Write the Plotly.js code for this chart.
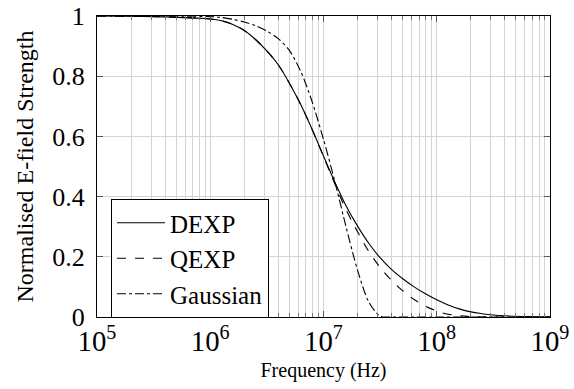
<!DOCTYPE html>
<html>
<head>
<meta charset="utf-8">
<script src="https://cdn.plot.ly/plotly-3.0.1.min.js"></script>
<style>html,body{margin:0;padding:0;background:#fff;}#chart{width:574px;height:389px;}</style>
</head>
<body>
<div id="chart"></div>
<script>
// Frequency (Hz) and normalised E-field strength
const dexpFreq = [1e5, 3.16e5, 1e6, 1.26e6, 1.58e6, 2.0e6, 2.51e6, 3.16e6, 3.98e6, 5.01e6, 6.31e6, 7.94e6, 1e7, 1.26e7, 1.58e7, 2.0e7, 2.51e7, 3.16e7, 3.98e7, 5.01e7, 6.31e7, 7.94e7, 1e8, 1.26e8, 1.58e8, 2.0e8, 2.51e8, 3.16e8, 3.98e8, 6.31e8, 1e9];
const dexpVal  = [1.0, 0.998, 0.99, 0.984, 0.972, 0.952, 0.922, 0.884, 0.838, 0.776, 0.705, 0.623, 0.535, 0.448, 0.37, 0.302, 0.245, 0.197, 0.158, 0.127, 0.10, 0.077, 0.057, 0.04, 0.027, 0.017, 0.011, 0.0065, 0.004, 0.0015, 0.0005];

const qexpFreq = [1e5, 3.16e5, 1e6, 1.26e6, 1.58e6, 2.0e6, 2.51e6, 3.16e6, 3.98e6, 5.01e6, 6.31e6, 7.94e6, 1e7, 1.26e7, 1.58e7, 2.0e7, 2.51e7, 3.16e7, 3.98e7, 5.01e7, 6.31e7, 7.94e7, 1e8, 1.26e8, 1.58e8, 2.0e8, 3.16e8, 1e9];
const qexpVal  = [1.0, 0.998, 0.99, 0.984, 0.972, 0.952, 0.922, 0.884, 0.838, 0.776, 0.705, 0.623, 0.533, 0.442, 0.357, 0.283, 0.218, 0.165, 0.122, 0.087, 0.058, 0.036, 0.02, 0.009, 0.004, 0.0015, 0.0, 0.0];

const gaussFreq = [1e5, 1e6, 1.26e6, 1.58e6, 2.0e6, 2.51e6, 3.16e6, 3.98e6, 5.01e6, 6.31e6, 7.94e6, 1e7, 1.26e7, 1.58e7, 2.0e7, 2.51e7, 3.16e7, 3.98e7, 1e8, 1e9];
const gaussVal  = [1.0, 0.998, 0.995, 0.989, 0.98, 0.968, 0.95, 0.925, 0.885, 0.815, 0.715, 0.59, 0.45, 0.30, 0.155, 0.05, 0.003, 0.0, 0.0, 0.0];

const seriesNames = ["DEXP", "QEXP", "Gaussian"];
const yTickVals = [0, 0.2, 0.4, 0.6, 0.8, 1];
const yTickText = ["0", "0.2", "0.4", "0.6", "0.8", "1"];

const FONT = "Liberation Serif, Times New Roman, serif";
const grid = "#d4d4d4";

const traces = [
  {x: dexpFreq, y: dexpVal, name: seriesNames[0], mode: "lines", line: {color: "#000", width: 1.1, dash: "solid", shape: "spline", smoothing: 1}},
  {x: qexpFreq, y: qexpVal, name: seriesNames[1], mode: "lines", line: {color: "#000", width: 1.1, dash: "dash", shape: "spline", smoothing: 1}},
  {x: gaussFreq, y: gaussVal, name: seriesNames[2], mode: "lines", line: {color: "#000", width: 1.1, dash: "dashdot", shape: "spline", smoothing: 0.8}}
];

const layout = {
  width: 574, height: 389,
  margin: {l: 97, r: 24, t: 16, b: 72},
  paper_bgcolor: "#fff", plot_bgcolor: "#fff",
  font: {family: FONT, size: 22, color: "#000"},
  showlegend: true,
  legend: {
    x: 0.031, y: 0.392, xanchor: "left", yanchor: "top",
    bordercolor: "#000", borderwidth: 1, bgcolor: "#fff",
    font: {family: FONT, size: 25, color: "#000"},
    itemwidth: 48, traceorder: "normal"
  },
  xaxis: {
    type: "log", range: [5, 9], dtick: 1,
    exponentformat: "power",
    showline: true, linecolor: "#000", linewidth: 1, mirror: "allticks",
    ticks: "inside", ticklen: 6, tickcolor: "#555",
    showgrid: true, gridcolor: grid, gridwidth: 1,
    minor: {dtick: "D1", ticks: "inside", ticklen: 4, tickcolor: "#777", showgrid: true, gridcolor: grid, gridwidth: 1},
    zeroline: false,
    tickfont: {family: FONT, size: 23},
    title: {text: "Frequency (Hz)", font: {family: FONT, size: 20}, standoff: 6}
  },
  yaxis: {
    range: [0, 1], tickvals: yTickVals, ticktext: yTickText,
    showline: true, linecolor: "#000", linewidth: 1, mirror: "allticks",
    ticks: "inside", ticklen: 6, tickcolor: "#555",
    showgrid: true, gridcolor: grid, gridwidth: 1,
    zeroline: false,
    ticklabelstandoff: 6,
    tickfont: {family: FONT, size: 26},
    title: {text: "Normalised E-field Strength", font: {family: FONT, size: 24}, standoff: 11}
  }
};

Plotly.newPlot("chart", traces, layout, {staticPlot: true, displayModeBar: false});
</script>
</body>
</html>
